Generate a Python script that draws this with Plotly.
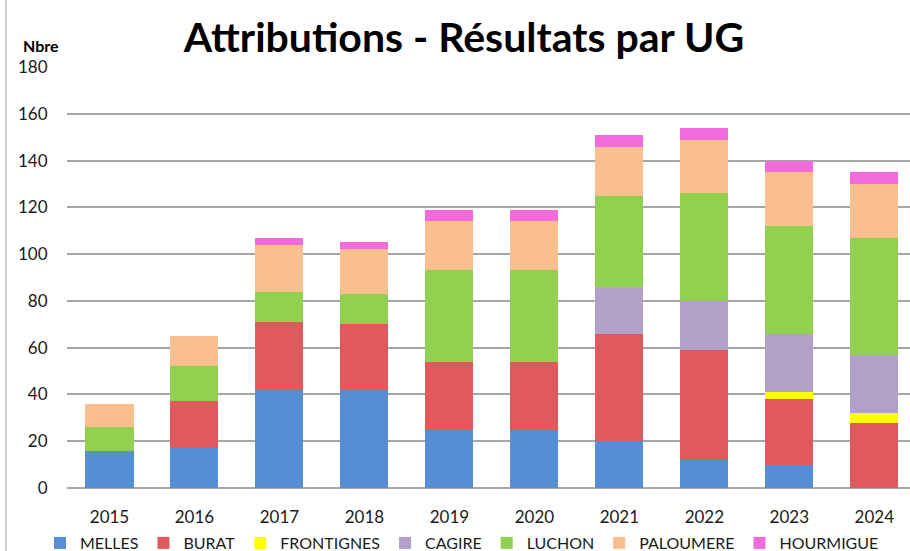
import plotly.graph_objects as go

years = ["2015", "2016", "2017", "2018", "2019", "2020", "2021", "2022", "2023", "2024"]
series_names = ["MELLES", "BURAT", "FRONTIGNES", "CAGIRE", "LUCHON", "PALOUMERE", "HOURMIGUE"]
melles = [16, 17, 42, 42, 25, 25, 20, 12, 10, 0]
burat = [0, 20, 29, 28, 29, 29, 46, 47, 28, 28]
frontignes = [0, 0, 0, 0, 0, 0, 0, 0, 3, 4]
cagire = [0, 0, 0, 0, 0, 0, 20, 21, 25, 25]
luchon = [10, 15, 13, 13, 39, 39, 39, 46, 46, 50]
paloumere = [10, 13, 20, 19, 21, 21, 21, 23, 23, 23]
hourmigue = [0, 0, 3, 3, 5, 5, 5, 5, 5, 5]
colors = ["#558ED5", "#E05A5B", "#FFFF00", "#B1A0C7", "#92D050", "#F9BF8F", "#F26BDB"]
y_ticks = [0, 20, 40, 60, 80, 100, 120, 140, 160, 180]

values = [melles, burat, frontignes, cagire, luchon, paloumere, hourmigue]
FONT = "Lato, Open Sans, sans-serif"

fig = go.Figure()
for name, vals, col in zip(series_names, values, colors):
    fig.add_trace(go.Bar(x=years, y=vals, name=name, marker=dict(color=col, line=dict(width=0))))

fig.update_layout(
    barmode="stack",
    bargap=0.435,
    width=910, height=551,
    margin=dict(l=67, r=0, t=67, b=63, autoexpand=False),
    paper_bgcolor="white", plot_bgcolor="white",
    font=dict(family=FONT, size=17, color="#1a1a1a"),
    title=dict(text="<b>Attributions - Résultats par UG</b>", x=464 / 910, xanchor="center",
               y=1 - 38 / 551, yanchor="middle",
               font=dict(family=FONT, size=41, color="black")),
    legend=dict(orientation="h", x=462 / 910, xref="container", xanchor="center",
                y=1 - 543 / 551, yref="container", yanchor="middle",
                font=dict(family=FONT, size=16, color="#1a1a1a"), itemwidth=30,
                traceorder="normal", bgcolor="rgba(0,0,0,0)"),
    xaxis=dict(type="category", range=[-0.5, 9.42], showgrid=False, showline=False,
               ticks="outside", ticklen=14, tickcolor="rgba(0,0,0,0)", tickfont=dict(size=17)),
    yaxis=dict(range=[0, 180], tickvals=y_ticks, showgrid=True, gridcolor="#A6A6A6",
               gridwidth=1.5, zeroline=True, zerolinecolor="#A6A6A6", zerolinewidth=1.5,
               showline=False, ticks="outside", ticklen=15, tickcolor="rgba(0,0,0,0)",
               tickfont=dict(size=17)),
    annotations=[dict(text="<b>Nbre</b>", xref="paper", yref="paper",
                      x=(41 - 67) / 843, y=(488 - 45) / 421, xanchor="center", yanchor="middle",
                      showarrow=False, font=dict(family=FONT, size=16, color="black"))],
    shapes=[dict(type="line", xref="paper", yref="paper", x0=(6 - 67) / 843, x1=(6 - 67) / 843,
                 y0=(488 - 551) / 421, y1=488 / 421, line=dict(color="#BFBFBF", width=1.5))],
)

fig.write_html("out.html", config={"displayModeBar": False},
               post_script="document.body.style.margin='0';")
